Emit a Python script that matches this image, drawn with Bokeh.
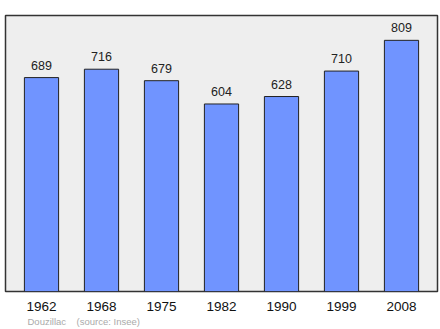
from bokeh.plotting import figure
from bokeh.models import ColumnDataSource, FixedTicker, Range1d, Title
from bokeh.core.properties import value
from bokeh.embed import file_html
from bokeh.resources import INLINE

years = ["1962", "1968", "1975", "1982", "1990", "1999", "2008"]
population = [689, 716, 679, 604, 628, 710, 809]
town = "Douzillac"
source_note = "(source: Insee)"

idx = list(range(len(years)))
src = ColumnDataSource(dict(x=idx, top=population, lbl=[str(v) for v in population]))

p = figure(width=440, height=329, output_backend="svg", toolbar_location=None,
           x_range=Range1d(-0.6, 6.6), y_range=Range1d(0, 889),
           min_border_left=5, min_border_right=3, min_border_top=15, min_border_bottom=38)
p.background_fill_color = "#eeeeee"
p.border_fill_color = "white"
p.outline_line_color = "#333333"
p.outline_line_width = 1.5
p.grid.visible = False
p.yaxis.visible = False

p.vbar(x="x", top="top", bottom=0, width=0.57, source=src,
       fill_color="#7094ff", line_color="#222222", line_width=1)
p.text(x="x", y="top", text="lbl", source=src, y_offset=-8,
       text_align="center", text_baseline="bottom",
       text_font=value("Liberation Sans"), text_font_size="12.5px", text_color="#222222")

ax = p.xaxis[0]
ax.ticker = FixedTicker(ticks=idx)
ax.major_label_overrides = {i: y for i, y in enumerate(years)}
ax.axis_line_color = None
ax.major_tick_line_color = None
ax.minor_tick_line_color = None
ax.major_label_text_font = "Liberation Sans"
ax.major_label_text_font_size = "13.5px"
ax.major_label_text_color = "#111111"
ax.major_label_standoff = 4

t = Title(text=town + "\u00a0\u00a0\u00a0\u00a0" + source_note, text_font="Liberation Sans",
          text_font_size="9.5px", text_color="#aaaaaa", text_font_style="normal",
          align="left", offset=22, standoff=0)
p.add_layout(t, "below")

open("out.html", "w").write(file_html(p, INLINE))
